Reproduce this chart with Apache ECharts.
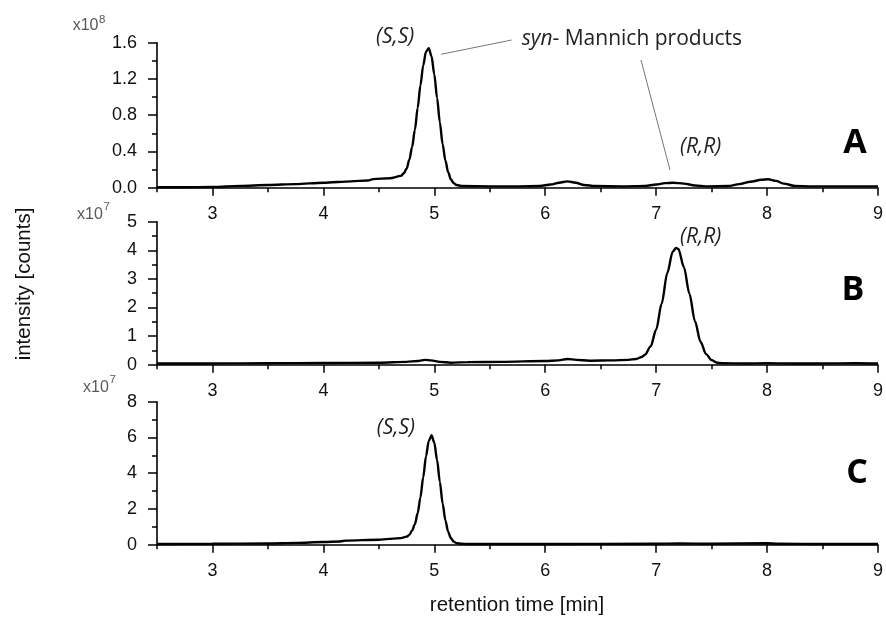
<!DOCTYPE html>
<html>
<head>
<meta charset="utf-8">
<script src="https://cdn.jsdelivr.net/npm/echarts@6/dist/echarts.min.js"></script>
<style>
html,body{margin:0;padding:0;background:#fff;}
#chart{width:886px;height:626px;}
</style>
</head>
<body>
<div id="chart"></div>
<script>
// ---- data (intensity in units of the panel's multiplier) ----
const timeA = [2.50,2.75,3.00,3.25,3.50,3.75,4.00,4.25,4.40,4.45,4.60,4.70,4.725,4.75,4.775,4.80,4.825,4.85,4.875,4.90,4.925,4.95,4.975,5.00,5.025,5.05,5.075,5.10,5.125,5.15,5.175,5.20,5.25,5.50,5.75,5.95,6.05,6.125,6.20,6.275,6.35,6.45,6.70,6.90,7.00,7.08,7.15,7.25,7.35,7.45,7.65,7.75,7.85,7.95,8.01,8.08,8.15,8.25,8.40,8.70,9.00];
const intensityA = [0.005,0.005,0.008,0.02,0.03,0.04,0.055,0.07,0.08,0.095,0.105,0.13,0.16,0.21,0.31,0.45,0.64,0.88,1.13,1.35,1.50,1.54,1.45,1.25,0.99,0.72,0.48,0.30,0.17,0.09,0.05,0.03,0.018,0.015,0.015,0.018,0.035,0.055,0.07,0.055,0.03,0.018,0.015,0.02,0.035,0.05,0.055,0.045,0.025,0.015,0.018,0.04,0.065,0.088,0.093,0.075,0.045,0.02,0.015,0.015,0.015];

const timeB = [2.50,3.00,3.50,4.00,4.50,4.75,4.85,4.92,4.97,5.05,5.15,5.30,5.60,6.00,6.12,6.20,6.28,6.40,6.60,6.75,6.82,6.87,6.90,6.95,7.00,7.05,7.10,7.15,7.18,7.20,7.25,7.30,7.35,7.40,7.45,7.50,7.55,7.60,7.80,8.00,8.20,8.50,8.80,9.00];
const intensityB = [0.04,0.04,0.05,0.06,0.07,0.10,0.13,0.17,0.15,0.10,0.07,0.09,0.10,0.13,0.15,0.20,0.17,0.14,0.15,0.17,0.20,0.27,0.35,0.64,1.22,2.14,3.20,3.96,4.08,4.05,3.42,2.48,1.52,0.80,0.37,0.16,0.07,0.05,0.04,0.05,0.04,0.04,0.05,0.04];

const timeC = [2.50,3.00,3.50,3.75,4.00,4.15,4.20,4.50,4.70,4.75,4.775,4.80,4.825,4.85,4.875,4.90,4.925,4.95,4.975,5.00,5.025,5.05,5.075,5.10,5.125,5.15,5.175,5.20,5.25,5.30,6.00,7.00,7.20,7.50,8.00,8.10,8.50,9.00];
const intensityC = [0.04,0.05,0.07,0.10,0.15,0.18,0.23,0.28,0.37,0.45,0.55,0.80,1.15,1.76,2.65,3.78,4.94,5.80,6.12,5.71,4.74,3.51,2.31,1.36,0.72,0.36,0.17,0.09,0.05,0.04,0.04,0.05,0.07,0.05,0.08,0.05,0.04,0.04];

const majorTimeTicks = [3,4,5,6,7,8,9];
const panelLetters = ['A','B','C'];
const yMax = [1.6, 5, 8];
const yStep = [0.4, 1, 2];
const yMultipliers = ['8','7','7'];

// ---- layout ----
const grids = [
  {left:157, right:6.5, top:42.7, height:145},
  {left:157, right:6.5, top:221.7, height:143},
  {left:157, right:6.5, top:401.7, height:143}
];
const FONT = '"Liberation Sans", Arial, sans-serif';
const ANN = '"Open Sans", sans-serif';

const xAxes = [], yAxes = [], series = [];
const datasets = [[timeA,intensityA],[timeB,intensityB],[timeC,intensityC]];
for (let i=0;i<3;i++){
  xAxes.push({
    gridIndex:i, type:'value', min:2.5, max:9, interval:0.5, position:'bottom',
    axisLine:{show:true, onZero:false, lineStyle:{color:'#000', width:1.6}},
    axisTick:{show:true, length:4.5, lineStyle:{color:'#000', width:1.5}},
    axisLabel:{show:true, margin:17, fontSize:18, fontFamily:FONT, color:'#111',
      formatter:function(v){ return Number.isInteger(v) ? String(v) : ''; }},
    splitLine:{show:false}
  });
  xAxes.push({
    gridIndex:i, type:'value', min:2.5, max:9, position:'bottom',
    axisLine:{show:false},
    axisTick:{show:true, length:8, customValues:majorTimeTicks, lineStyle:{color:'#000', width:1.5}},
    axisLabel:{show:false},
    splitLine:{show:false}
  });
  yAxes.push({
    gridIndex:i, type:'value', min:0, max:yMax[i], interval:yStep[i],
    axisLine:{show:true, onZero:false, lineStyle:{color:'#000', width:1.6}},
    axisTick:{show:true, length:9, lineStyle:{color:'#000', width:1.5}},
    minorTick:{show:true, splitNumber:2, length:5, lineStyle:{color:'#000', width:1.5}},
    axisLabel:{margin:20, fontSize:18, fontFamily:FONT, color:'#111',
      formatter: i===0 ? (v=>v.toFixed(1)) : (v=>String(v))},
    splitLine:{show:false}, minorSplitLine:{show:false}
  });
  const [t,v] = datasets[i];
  series.push({
    type:'line', xAxisIndex:2*i, yAxisIndex:i,
    data: t.map((x,k)=>[x, v[k]]),
    showSymbol:false, symbol:'none', smooth:0.3, smoothMonotone:'x',
    lineStyle:{color:'#000', width:2.4}, clip:true, silent:true, animation:false
  });
}

const graphic = [];
// multiplier labels
const multPos = [[72.7,27,99,20.5],[77,215.3,103.5,207],[83,388.3,109.5,380.5]];
for (let i=0;i<3;i++){
  const p = multPos[i];
  graphic.push({type:'text', left:p[0], top:p[1]-9, style:{text:'x10', font:'16px '+FONT, fill:'#595959'}});
  graphic.push({type:'text', left:p[2], top:p[3]-6.5, style:{text:yMultipliers[i], font:'11.5px '+FONT, fill:'#595959'}});
}
// panel letters
const letterPos = [[855,143],[853,290],[857,473]];
for (let i=0;i<3;i++){
  graphic.push({type:'text', x:letterPos[i][0], y:letterPos[i][1],
    style:{text:panelLetters[i], font:'bold 34px '+ANN, fill:'#000', align:'center', verticalAlign:'middle'}});
}
// annotations
const ann = [['(S,S)',376,37],['(R,R)',680,147],['(R,R)',680,237],['(S,S)',376.7,428]];
ann.forEach(a=>graphic.push({type:'text', x:a[1], y:a[2],
  style:{text:a[0], font:'italic 21px '+ANN, fill:'#222', verticalAlign:'middle'}}));
graphic.push({type:'text', x:521.7, y:39, style:{
  text:'{i|syn}{r|- Mannich products}', verticalAlign:'middle',
  rich:{i:{font:'italic 21px '+ANN, fill:'#222'}, r:{font:'21px '+ANN, fill:'#222'}}}});
graphic.push({type:'line', shape:{x1:441,y1:54.3,x2:511.7,y2:40}, style:{stroke:'#777', lineWidth:1}});
graphic.push({type:'line', shape:{x1:641,y1:60,x2:670,y2:170}, style:{stroke:'#777', lineWidth:1}});
// axis titles
graphic.push({type:'text', x:24, y:284, rotation:Math.PI/2,
  style:{text:'intensity [counts]', font:'20.5px '+FONT, fill:'#111', align:'center', verticalAlign:'middle'}});
graphic.push({type:'text', x:517, y:605,
  style:{text:'retention time [min]', font:'20.5px '+FONT, fill:'#111', align:'center', verticalAlign:'middle'}});

const chart = echarts.init(document.getElementById('chart'), null, {renderer:'canvas'});
chart.setOption({
  animation:false,
  backgroundColor:'#fff',
  grid:grids,
  xAxis:xAxes,
  yAxis:yAxes,
  series:series,
  graphic:graphic
});
</script>
</body>
</html>
